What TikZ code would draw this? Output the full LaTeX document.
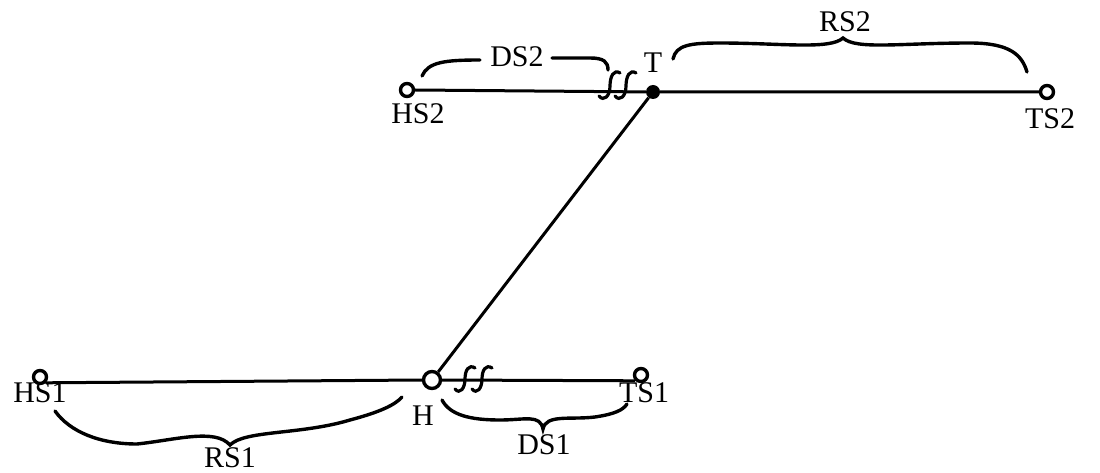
\documentclass[tikz,border=0pt]{standalone}
\usepackage{fontspec}
\setmainfont{Liberation Serif}
\begin{document}
\begin{tikzpicture}[x=1pt,y=-1pt,
  lbl/.style={inner sep=0pt,font=\fontsize{30}{32}\selectfont},
  ring/.style={circle,draw,line width=3.4pt,minimum size=13pt,inner sep=0pt},
  dot/.style={circle,fill,minimum size=14pt,inner sep=0pt},
  wire/.style={line width=3pt},
  brace/.style={line width=3.4pt,line cap=round},
  hook/.style={line width=3.2pt,line cap=round}]
\useasboundingbox (0,0) rectangle (1100,473);
% upper line
\node[ring] (HS2) at (407,90) {};
\node[ring] (TS2) at (1047,92) {};
\node[dot] (T) at (653,92) {};
\draw[wire] (HS2.east) -- (T) -- (TS2.west);
% lower line
\node[ring] (HS1) at (40,377) {};
\node[ring,minimum size=17pt] (H) at (432,380) {};
\node[ring] (TS1) at (641,375) {};
\draw[wire] (HS1.south east) -- (H.west);
\draw[wire] (H.east) -- (TS1.south west);
% diagonal
\draw[wire] (H) -- (T);
% labels
\node[lbl] (lHS2) at (418,114) {HS2};
\node[lbl] (lTS2) at (1050,119) {TS2};
\node[lbl] (lT) at (653,63) {T};
\node[lbl] (lDS2) at (517,57) {DS2};
\node[lbl] (lRS2) at (845,22) {RS2};
\node[lbl] (lHS1) at (40,393) {HS1};
\node[lbl] (lH) at (423,416) {H};
\node[lbl] (lTS1) at (644,393) {TS1};
\node[lbl] (lDS1) at (544,445) {DS1};
\node[lbl] (lRS1) at (230,458) {RS1};
% braces
\draw[brace] (422,76) .. controls (428,62) and (445,60) .. (480,60);
\draw[brace] (552,58) -- (590,58) .. controls (604,58) and (608,62) .. (608,70);
\draw[brace] (673,59) .. controls (676,45) and (690,43) .. (720,43)
  .. controls (780,43) and (830,50) .. (843,38)
  .. controls (856,50) and (900,43) .. (970,43)
  .. controls (1010,43) and (1022,55) .. (1027,72);
\draw[brace] (55,411) .. controls (70,432) and (100,444) .. (137,444)
  .. controls (175,440) and (215,428) .. (230,445)
  .. controls (245,430) and (300,435) .. (350,420)
  .. controls (380,412) and (395,405) .. (402,397);
\draw[brace] (442,400) .. controls (450,415) and (470,420) .. (500,420)
  .. controls (525,420) and (540,414) .. (543,429)
  .. controls (546,414) and (570,420) .. (595,417)
  .. controls (615,414) and (623,410) .. (627,404);
% break marks upper
\foreach \dx in {0,16}{
  \draw[hook] (599+\dx,96) .. controls (604+\dx,102) and (610+\dx,96) .. (610+\dx,86)
     .. controls (610+\dx,76) and (614+\dx,69) .. (620+\dx,73);
}
% break marks lower
\foreach \dx in {0,17}{
  \draw[hook] (455+\dx,389) .. controls (460+\dx,395) and (465+\dx,388) .. (465+\dx,379)
     .. controls (465+\dx,370) and (469+\dx,364) .. (475+\dx,368);
}
\end{tikzpicture}
\end{document}
